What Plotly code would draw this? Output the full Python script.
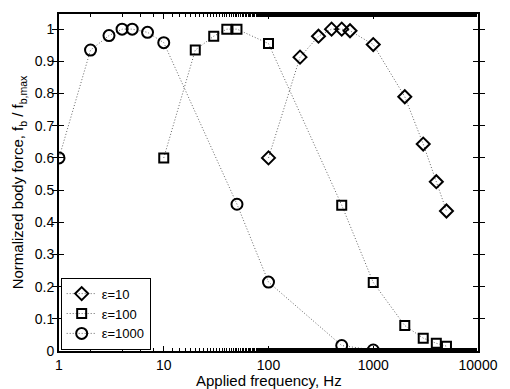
import plotly.graph_objects as go

# epsilon = 10 (diamonds)
f10 = [100, 200, 300, 400, 500, 600, 1000, 2000, 3000, 4000, 5000]
v10 = [0.60, 0.913, 0.978, 1.0, 1.0, 0.995, 0.952, 0.79, 0.643, 0.526, 0.435]

# epsilon = 100 (squares)
f100 = [10, 20, 30, 40, 50, 100, 500, 1000, 2000, 3000, 4000, 5000]
v100 = [0.60, 0.935, 0.978, 1.0, 1.0, 0.955, 0.453, 0.213, 0.079, 0.04, 0.024, 0.015]

# epsilon = 1000 (circles)
f1000 = [1, 2, 3, 4, 5, 7, 10, 50, 100, 500, 1000]
v1000 = [0.60, 0.935, 0.98, 1.0, 1.0, 0.99, 0.958, 0.456, 0.214, 0.017, 0.003]

names = ["ε=10", "ε=100", "ε=1000"]
ytick_vals = [0, 0.1, 0.2, 0.3, 0.4, 0.5, 0.6, 0.7, 0.8, 0.9, 1]
ytick_text = ["0", "0.1", "0.2", "0.3", "0.4", "0.5", "0.6", "0.7", "0.8", "0.9", "1"]
xtick_vals = [1, 10, 100, 1000, 10000]
xtick_text = ["1", "10", "100", "1000", "10000"]
x_title = "Applied frequency, Hz"
y_title = "Normalized body force, f<sub>b</sub> / f<sub>b,max</sub>"

font = "Liberation Sans, Arial, Helvetica, sans-serif"
line_style = dict(color="#666", width=1, dash="1px,2px")

fig = go.Figure()
fig.add_trace(go.Scatter(x=f10, y=v10, mode="lines+markers", name=names[0],
                         line=line_style,
                         marker=dict(symbol="diamond-open", size=10, color="black",
                                     line=dict(width=2, color="black"))))
fig.add_trace(go.Scatter(x=f100, y=v100, mode="lines+markers", name=names[1],
                         line=line_style,
                         marker=dict(symbol="square-open", size=9, color="black",
                                     line=dict(width=2, color="black"))))
fig.add_trace(go.Scatter(x=f1000, y=v1000, mode="lines+markers", name=names[2],
                         line=line_style,
                         marker=dict(symbol="circle-open", size=11, color="black",
                                     line=dict(width=2, color="black"))))
# invisible helper trace so the top (mirrored) axis with minor ticks is drawn
fig.add_trace(go.Scatter(x=f1000, y=v1000, mode="markers", xaxis="x2",
                         marker=dict(opacity=0), showlegend=False, hoverinfo="skip"))

fig.add_annotation(text=x_title, xref="paper", yref="paper", x=0.5, y=0,
                   xanchor="center", yanchor="top", yshift=-19, showarrow=False,
                   font=dict(size=15))

fig.update_layout(
    width=510, height=389,
    margin=dict(l=59, r=23, t=14, b=38),
    paper_bgcolor="white", plot_bgcolor="white",
    font=dict(family=font, size=14, color="black"),
    showlegend=True,
    legend=dict(x=0.004, y=0.004, xanchor="left", yanchor="bottom",
                bordercolor="black", borderwidth=1, bgcolor="white",
                font=dict(size=13), tracegroupgap=0, itemwidth=30),
    xaxis=dict(type="log", range=[0, 4], tickvals=xtick_vals, ticktext=xtick_text,
               ticks="inside", ticklen=5, tickwidth=1, tickcolor="black",
               showline=True, linecolor="black", linewidth=2, mirror="allticks",
               showgrid=False, zeroline=False, tickfont=dict(size=14),
               minor=dict(ticks="inside", ticklen=3, tickcolor="black", showgrid=False)),
    xaxis2=dict(type="log", range=[0, 4], overlaying="x", side="top",
                tickvals=xtick_vals, showticklabels=False,
                ticks="inside", ticklen=5, tickwidth=1, tickcolor="black",
                showline=False, showgrid=False, zeroline=False,
                minor=dict(ticks="inside", ticklen=3, tickcolor="black", showgrid=False)),
    yaxis=dict(range=[0, 1.047], tickvals=ytick_vals, ticktext=ytick_text,
               ticks="inside", ticklen=5, tickwidth=1, tickcolor="black",
               showline=True, linecolor="black", linewidth=2, mirror="allticks",
               showgrid=False, zeroline=False, tickfont=dict(size=14),
               title=dict(text=y_title, standoff=7, font=dict(size=15))),
)

fig.write_html("out.html", config={"displayModeBar": False},
               post_script="document.body.style.margin='0';document.body.style.overflow='hidden';")
